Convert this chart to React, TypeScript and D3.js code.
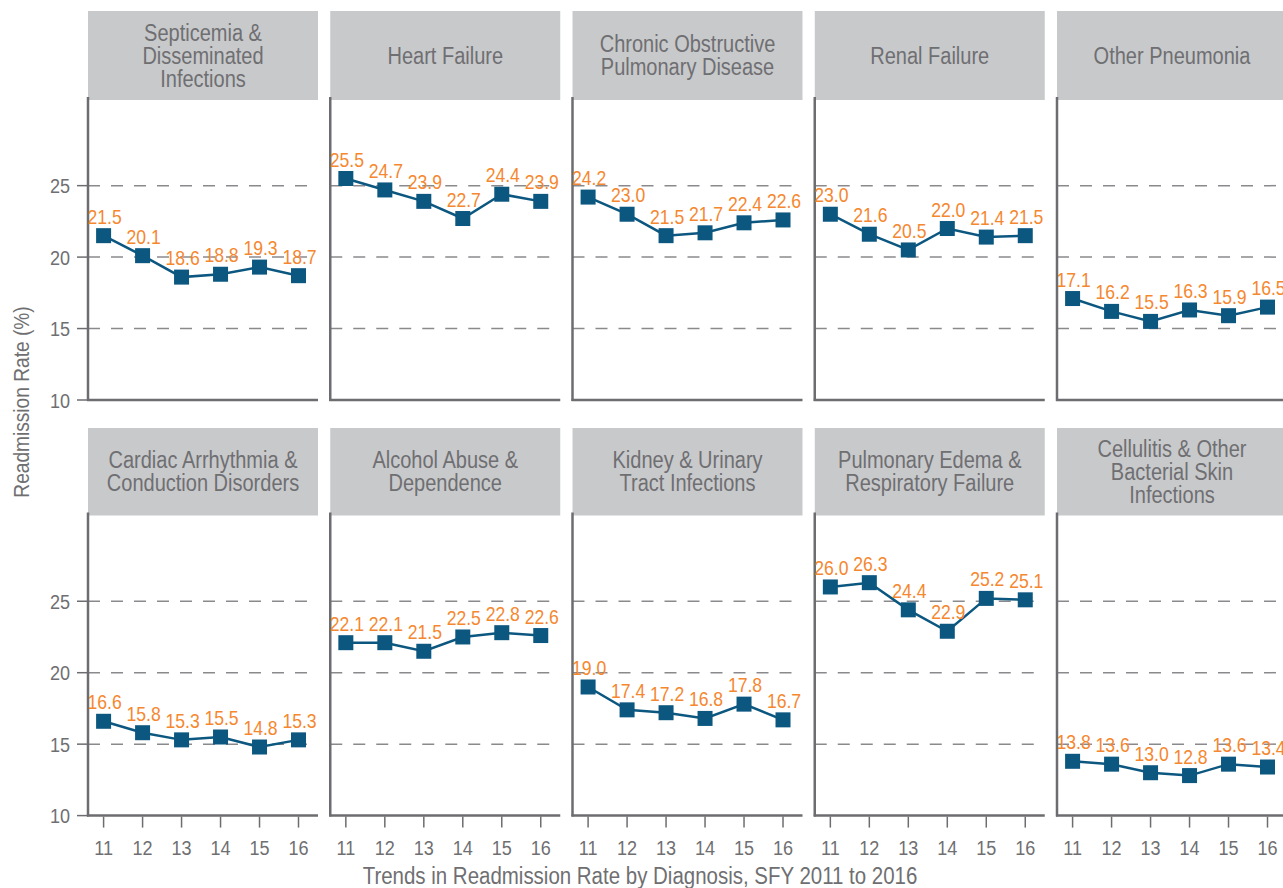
import React from "react";
import * as d3 from "d3";

const years = [11, 12, 13, 14, 15, 16];
const yTicks = [10, 15, 20, 25];
const gridTicks = [15, 20, 25];

const titles: string[][] = [
  ["Septicemia &", "Disseminated", "Infections"],
  ["Heart Failure"],
  ["Chronic Obstructive", "Pulmonary Disease"],
  ["Renal Failure"],
  ["Other Pneumonia"],
  ["Cardiac Arrhythmia &", "Conduction Disorders"],
  ["Alcohol Abuse &", "Dependence"],
  ["Kidney & Urinary", "Tract Infections"],
  ["Pulmonary Edema &", "Respiratory Failure"],
  ["Cellulitis & Other", "Bacterial Skin", "Infections"],
];

const septicemia = [21.5, 20.1, 18.6, 18.8, 19.3, 18.7];
const heartFailure = [25.5, 24.7, 23.9, 22.7, 24.4, 23.9];
const copd = [24.2, 23.0, 21.5, 21.7, 22.4, 22.6];
const renalFailure = [23.0, 21.6, 20.5, 22.0, 21.4, 21.5];
const otherPneumonia = [17.1, 16.2, 15.5, 16.3, 15.9, 16.5];
const cardiacArrhythmia = [16.6, 15.8, 15.3, 15.5, 14.8, 15.3];
const alcoholAbuse = [22.1, 22.1, 21.5, 22.5, 22.8, 22.6];
const kidneyUrinary = [19.0, 17.4, 17.2, 16.8, 17.8, 16.7];
const pulmonaryEdema = [26.0, 26.3, 24.4, 22.9, 25.2, 25.1];
const cellulitis = [13.8, 13.6, 13.0, 12.8, 13.6, 13.4];

const series = [
  septicemia,
  heartFailure,
  copd,
  renalFailure,
  otherPneumonia,
  cardiacArrhythmia,
  alcoholAbuse,
  kidneyUrinary,
  pulmonaryEdema,
  cellulitis,
];

const W = 1283;
const H = 888;
const FONT = "'Liberation Sans', Arial, Helvetica, sans-serif";
const GRAY = "#6f6f72";
const AXIS = "#6d6d71";
const HEADER_BG = "#c8c9cb";
const ORANGE = "#f5872f";
const BLUE = "#0c5780";

const colLeft = (i: number) => 88 + i * 242.25;
const PANEL_W = 230;
const rowBottom = [400, 815.6];
const headerTop = [11, 428];
const headerH = [89, 87.5];

function T(props: {
  x: number;
  y: number;
  size: number;
  sx?: number;
  fill?: string;
  anchor?: string;
  rotate?: number;
  children: React.ReactNode;
}) {
  const { x, y, size, sx = 0.87, fill = GRAY, anchor = "middle", rotate = 0 } = props;
  return (
    <text
      transform={`translate(${x},${y}) rotate(${rotate}) scale(${sx},1)`}
      fontSize={size}
      fontFamily={FONT}
      fill={fill}
      textAnchor={anchor}
    >
      {props.children}
    </text>
  );
}

function Panel({ idx }: { idx: number }) {
  const col = idx % 5;
  const row = Math.floor(idx / 5);
  const left = colLeft(col);
  const bottom = rowBottom[row];
  const top = headerTop[row] + headerH[row];
  const x = d3.scaleLinear().domain([10.6, 16.5]).range([left, left + PANEL_W]);
  const y = d3.scaleLinear().domain([10, 31]).range([bottom, bottom - 21 * 14.29]);
  const vals = series[idx];
  const pts: [number, number][] = vals.map((v, i) => [x(years[i]), y(v)]);
  const line = d3.line()(pts) || "";
  const lines = titles[idx];
  const hMid = headerTop[row] + headerH[row] / 2;
  const lh = 23;
  return (
    <g>
      <rect x={left} y={headerTop[row]} width={PANEL_W} height={headerH[row]} fill={HEADER_BG} />
      {lines.map((t, i) => (
        <T key={i} x={left + PANEL_W / 2} y={hMid + (i - (lines.length - 1) / 2) * lh + 8} size={23}>
          {t}
        </T>
      ))}
      {gridTicks.map((t) => (
        <line
          key={t}
          x1={left}
          x2={left + PANEL_W}
          y1={y(t)}
          y2={y(t)}
          stroke="#8a8a8d"
          strokeWidth={1.5}
          strokeDasharray="12,11"
        />
      ))}
      {col === 0 &&
        yTicks.map((t) => (
          <g key={t}>
            <line x1={77} x2={left} y1={y(t)} y2={y(t)} stroke={AXIS} strokeWidth={1.5} />
            <T x={70} y={y(t) + 7.5} size={21} anchor="end" sx={0.86}>
              {t}
            </T>
          </g>
        ))}
      <line x1={left} x2={left} y1={top - 3} y2={bottom + 1} stroke={AXIS} strokeWidth={2.5} />
      <line x1={left - 1} x2={left + PANEL_W} y1={bottom} y2={bottom} stroke={AXIS} strokeWidth={2.5} />
      {row === 1 &&
        years.map((yr) => (
          <g key={yr}>
            <line x1={x(yr)} x2={x(yr)} y1={bottom + 1} y2={bottom + 12} stroke={AXIS} strokeWidth={1.5} />
            <T x={x(yr)} y={bottom + 39} size={21} sx={0.86}>
              {yr}
            </T>
          </g>
        ))}
      <path d={line} fill="none" stroke={BLUE} strokeWidth={2.5} />
      {pts.map(([px, py], i) => (
        <rect key={i} x={px - 7.5} y={py - 7.5} width={15} height={15} fill={BLUE} />
      ))}
      {pts.map(([px, py], i) => (
        <T key={"l" + i} x={px + 1} y={py - 12} size={20} sx={0.88} fill={ORANGE}>
          {vals[i].toFixed(1)}
        </T>
      ))}
    </g>
  );
}

export default function App() {
  return (
    <svg
      width={W}
      height={H}
      style={{ position: "absolute", left: 0, top: 0, display: "block", background: "#fff" }}
    >
      {series.map((_, i) => (
        <Panel key={i} idx={i} />
      ))}
      <T x={29} y={402} size={22} rotate={-90}>
        Readmission Rate (%)
      </T>
      <T x={640} y={884} size={23} sx={0.89}>
        Trends in Readmission Rate by Diagnosis, SFY 2011 to 2016
      </T>
    </svg>
  );
}
